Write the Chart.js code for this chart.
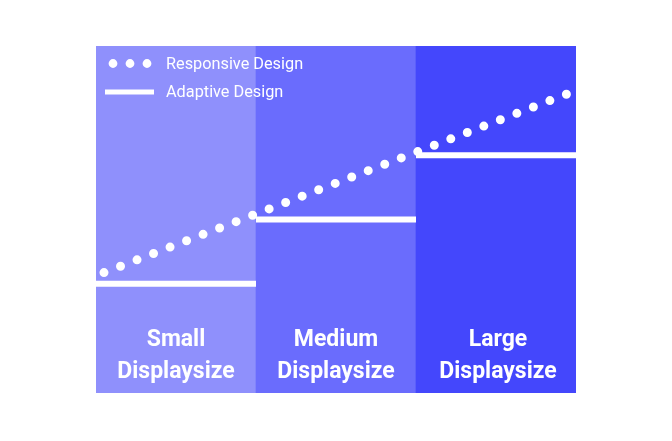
<!DOCTYPE html>
<html>
<head>
<meta charset="utf-8">
<script src="https://cdn.jsdelivr.net/npm/chart.js@4"></script>
<style>
  html, body { margin: 0; padding: 0; background: #fff; }
  #wrap { width: 672px; height: 441px; }
</style>
</head>
<body>
<div id="wrap"><canvas id="myChart" width="672" height="441"></canvas></div>
<script>
const categories = [['Small', 'Displaysize'], ['Medium', 'Displaysize'], ['Large', 'Displaysize']];
const categoryCenters = [0.5, 1.5, 2.5];
const panelHeights = [100, 100, 100];
const panelColors = ['#8f90fc', '#6a6cfd', '#4447fc'];

// responsive: one straight rising line (start, end)
const responsiveX = [0.05, 2.94];
const responsiveY = [34.7, 86.1];

// adaptive: one flat level per display size
const adaptiveLevels = [31.5, 50, 68.5];

const seriesNames = ['Responsive Design', 'Adaptive Design'];

const panelData = categoryCenters.map((x, i) => ({ x: x, y: panelHeights[i] }));
const responsiveData = responsiveX.map((x, i) => ({ x: x, y: responsiveY[i] }));
const adaptiveData = [];
for (let i = 0; i < adaptiveLevels.length; i++) {
  adaptiveData.push({ x: i, y: adaptiveLevels[i] });
  adaptiveData.push({ x: i + 1, y: adaptiveLevels[i] });
  if (i < adaptiveLevels.length - 1) adaptiveData.push({ x: i + 1, y: null });
}

// draws the size labels inside the panels and the legend in the top-left corner
const overlayPlugin = {
  id: 'overlay',
  afterDatasetsDraw(chart) {
    const ctx = chart.ctx;
    const area = chart.chartArea;
    const xScale = chart.scales.x;
    ctx.save();
    ctx.fillStyle = '#ffffff';
    ctx.textAlign = 'center';
    ctx.textBaseline = 'middle';
    ctx.font = 'bold 23px Roboto';
    for (let i = 0; i < categories.length; i++) {
      const cx = xScale.getPixelForValue(categoryCenters[i]) + (i === 2 ? 2 : 0);
      ctx.fillText(categories[i][0], cx, area.bottom - 52.5);
      ctx.fillText(categories[i][1], cx, area.bottom - 21);
    }

    // legend
    const lx = area.left + 9;
    ctx.beginPath();
    for (let k = 0; k < 3; k++) {
      ctx.moveTo(lx + 8 + k * 17 + 4.4, area.top + 17.5);
      ctx.arc(lx + 8 + k * 17, area.top + 17.5, 4.4, 0, Math.PI * 2);
    }
    ctx.fill();
    ctx.fillRect(lx, area.top + 43.5, 49, 5);
    ctx.textAlign = 'left';
    ctx.font = '16.3px Roboto';
    ctx.fillText(seriesNames[0], lx + 61, area.top + 18.5);
    ctx.fillText(seriesNames[1], lx + 61, area.top + 46.5);
    ctx.restore();
  }
};

const ctx = document.getElementById('myChart').getContext('2d');
new Chart(ctx, {
  type: 'line',
  data: {
    datasets: [
      {
        label: seriesNames[0],
        data: responsiveData,
        borderColor: '#ffffff',
        borderWidth: 9,
        borderDash: [0, 17.7],
        borderCapStyle: 'round',
        pointRadius: 0,
        order: 1,
      },
      {
        label: seriesNames[1],
        data: adaptiveData,
        borderColor: '#ffffff',
        borderWidth: 6,
        borderCapStyle: 'butt',
        spanGaps: false,
        pointRadius: 0,
        order: 2,
      },
      {
        type: 'bar',
        label: 'panels',
        data: panelData,
        backgroundColor: panelColors,
        barPercentage: 1,
        categoryPercentage: 1,
        borderWidth: 0,
        order: 3,
      },
    ],
  },
  options: {
    responsive: false,
    animation: false,
    layout: { padding: { left: 96, right: 96, top: 46, bottom: 48 } },
    plugins: {
      legend: { display: false },
      tooltip: { enabled: false },
    },
    scales: {
      x: { type: 'linear', min: 0, max: 3, offset: false, display: false, ticks: { stepSize: 1 } },
      y: { type: 'linear', min: 0, max: 100, display: false },
    },
  },
  plugins: [overlayPlugin],
});
</script>
</body>
</html>
